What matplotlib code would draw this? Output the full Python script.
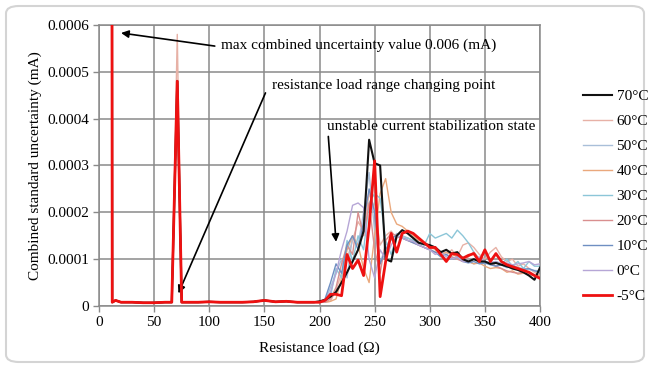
import numpy as np
import matplotlib
matplotlib.use("Agg")
import matplotlib.pyplot as plt
from matplotlib.patches import FancyBboxPatch
from matplotlib.ticker import FuncFormatter, MultipleLocator

plt.rcParams['font.family'] = ['Liberation Serif', 'DejaVu Serif']

# values are in units of 1e-4 mA
low_load = [10, 12, 15, 20, 30, 40, 50, 60, 66, 71, 75, 80, 90, 100, 110, 120,
            130, 140, 150, 160, 170, 180, 190, 195]
low_vals = [60, 0.08, 0.12, 0.08, 0.08, 0.07, 0.07, 0.08, 0.08, None, 0.08, 0.08,
            0.08, 0.09, 0.08, 0.08, 0.08, 0.09, 0.12, 0.09, 0.10, 0.08, 0.08, 0.08]

high_load = [200, 205, 210, 215, 220, 225, 230, 235, 240, 245, 250, 255, 260, 265,
             270, 275, 280, 285, 290, 295, 300, 305, 310, 315, 320, 325, 330, 335,
             340, 345, 350, 355, 360, 365, 370, 375, 380, 385, 390, 395, 400]

temps = ['70°C', '60°C', '50°C', '40°C', '30°C', '20°C', '10°C', '0°C', '-5°C']
colors = ['#111111', '#e7b1a6', '#a9bfd9', '#eaa87c', '#8cc6d8', '#d98f8f',
          '#6f8fc2', '#b6a6d6', '#ee1111']
widths = [1.5, 1.0, 1.0, 1.0, 1.0, 1.0, 1.0, 1.0, 2.0]
spikes = [4.8, 5.8, 4.8, 4.8, 4.8, 4.8, 4.8, 4.8, 4.8]

high_vals = {
    '70°C': [0.10, 0.13, 0.20, 0.30, 0.50, 0.72, 0.95, 1.20, 1.60, 3.55, 3.05, 3.00,
             1.00, 0.95, 1.50, 1.62, 1.55, 1.45, 1.35, 1.32, 1.30, 1.25, 1.15, 1.20,
             1.12, 1.15, 1.00, 0.95, 1.00, 0.95, 0.95, 0.90, 0.92, 0.88, 0.85, 0.80,
             0.77, 0.72, 0.65, 0.56, 0.82],
    '60°C': [0.08, 0.08, 0.10, 0.35, 0.70, 1.00, 1.40, 1.80, 1.60, 2.40, 2.10, 1.30,
             1.50, 1.60, 1.45, 1.50, 1.45, 1.40, 1.30, 1.25, 1.20, 1.25, 1.15, 1.10,
             1.20, 1.05, 1.30, 1.35, 1.25, 1.10, 1.00, 1.15, 1.25, 1.05, 0.95, 1.00,
             0.85, 0.90, 0.80, 0.72, 0.65],
    '50°C': [0.08, 0.10, 0.40, 0.70, 1.00, 0.60, 1.50, 1.30, 2.00, 2.85, 1.60, 0.90,
             1.30, 1.40, 1.55, 1.50, 1.45, 1.40, 1.35, 1.30, 1.30, 1.20, 1.15, 1.10,
             1.05, 1.00, 1.05, 0.95, 0.90, 0.95, 0.90, 0.95, 0.85, 0.90, 0.85, 0.88,
             0.82, 0.80, 0.78, 0.76, 0.75],
    '40°C': [0.08, 0.08, 0.10, 0.15, 0.60, 1.20, 1.50, 1.30, 0.80, 0.50, 1.50, 2.40,
             2.72, 2.00, 1.75, 1.70, 1.60, 1.50, 1.40, 1.35, 1.30, 1.20, 1.10, 1.15,
             1.10, 1.05, 1.00, 0.95, 0.90, 0.92, 0.85, 0.80, 0.82, 0.80, 0.72, 0.75,
             0.68, 0.70, 0.68, 0.65, 0.65],
    '30°C': [0.08, 0.08, 0.20, 0.80, 0.60, 1.40, 0.95, 1.50, 1.20, 2.20, 2.40, 2.30,
             1.40, 1.10, 1.50, 1.45, 1.45, 1.40, 1.35, 1.30, 1.55, 1.45, 1.50, 1.55,
             1.45, 1.62, 1.50, 1.35, 1.15, 1.00, 0.95, 0.92, 0.95, 0.90, 1.00, 0.85,
             0.95, 0.80, 0.95, 0.85, 0.85],
    '20°C': [0.08, 0.08, 0.15, 0.40, 0.90, 1.30, 1.10, 2.00, 1.50, 2.20, 1.20, 0.70,
             1.40, 1.55, 1.50, 1.45, 1.40, 1.35, 1.30, 1.25, 1.20, 1.15, 1.10, 1.00,
             1.05, 1.00, 0.95, 1.05, 1.15, 1.00, 0.95, 0.90, 0.85, 0.80, 0.75, 0.72,
             0.70, 0.72, 0.68, 0.65, 0.62],
    '10°C': [0.08, 0.15, 0.50, 0.90, 0.70, 1.30, 1.50, 1.20, 1.80, 2.50, 2.00, 0.90,
             1.20, 1.45, 1.50, 1.45, 1.40, 1.35, 1.30, 1.25, 1.20, 1.15, 1.05, 1.10,
             1.00, 1.05, 0.95, 0.92, 0.95, 0.90, 0.92, 0.88, 0.85, 0.88, 0.82, 0.85,
             0.80, 0.78, 0.80, 0.75, 0.72],
    '0°C': [0.08, 0.10, 0.30, 0.70, 1.20, 1.60, 2.15, 2.20, 2.10, 1.00, 0.60, 1.20,
            1.00, 1.30, 1.50, 1.45, 1.40, 1.38, 1.30, 1.25, 1.20, 1.10, 1.15, 1.05,
            1.00, 1.05, 0.95, 0.95, 1.00, 1.05, 0.95, 0.92, 0.95, 0.90, 0.92, 0.88,
            0.90, 0.92, 0.95, 0.88, 0.90],
    '-5°C': [0.08, 0.12, 0.25, 0.25, 0.22, 1.10, 0.80, 0.98, 0.65, 1.70, 3.10, 0.20,
             0.95, 1.55, 1.15, 1.55, 1.60, 1.55, 1.45, 1.35, 1.25, 1.25, 1.10, 0.95,
             1.12, 1.10, 1.02, 1.08, 1.12, 0.95, 1.20, 0.95, 1.12, 0.95, 0.88, 0.84,
             0.80, 0.76, 0.72, 0.65, 0.59],
}

fig = plt.figure(figsize=(6.49, 3.67), dpi=100)
fig.patches.append(FancyBboxPatch((6 / 649, 5 / 367), 638 / 649, 356 / 367,
                                  boxstyle="round,pad=0,rounding_size=0.02",
                                  transform=fig.transFigure, facecolor='white',
                                  edgecolor='#d4d4d4', lw=1.5, zorder=-1))
ax = fig.add_axes([99 / 649, 1 - 306 / 367, 441 / 649, 281 / 367])
ax.set_facecolor('none')

load = np.array(low_load + high_load)
lines = {}
order = [1, 2, 3, 4, 5, 6, 7, 0, 8]  # black and red drawn on top
for i in order:
    t = temps[i]
    lv = [spikes[i] if v is None else v for v in low_vals]
    vals = np.array(lv + high_vals[t]) * 1e-4
    ln, = ax.plot(load, vals, color=colors[i], lw=widths[i], label=t,
                  solid_joinstyle='round', zorder=3 + (i in (0, 8)) + (i == 8))
    lines[t] = ln

ax.set_xlim(0, 400)
ax.set_ylim(0, 0.0006)
ax.xaxis.set_major_locator(MultipleLocator(50))
ax.yaxis.set_major_locator(MultipleLocator(0.0001))
ax.yaxis.set_major_formatter(FuncFormatter(lambda v, p: '0' if abs(v) < 1e-12 else f'{v:.4f}'))
ax.grid(True, color='#8a8a8a', lw=1.1)
ax.set_axisbelow(True)
for s in ax.spines.values():
    s.set_color('#8a8a8a')
    s.set_linewidth(1.1)
ax.tick_params(direction='out', length=4, width=1, color='#8a8a8a',
               labelsize=11, pad=3)
ax.set_xlabel('Resistance load (Ω)', fontsize=11, labelpad=9)
ax.set_ylabel('Combined standard uncertainty (mA)', fontsize=11, labelpad=4)

arrow = dict(arrowstyle='-|>', color='black', lw=1.2, mutation_scale=11,
             shrinkA=0, shrinkB=0)
ax.annotate('', xy=(20, 5.83e-4), xytext=(105, 5.55e-4), arrowprops=arrow,
            annotation_clip=False)
ax.text(111, 5.57e-4, 'max combined uncertainty value 0.006 (mA)', fontsize=11,
        va='center', ha='left')
ax.annotate('', xy=(72, 0.27e-4), xytext=(151, 4.55e-4), arrowprops=arrow)
ax.text(157, 4.7e-4, 'resistance load range changing point', fontsize=11,
        va='center', ha='left')
ax.annotate('', xy=(215, 1.37e-4), xytext=(208, 3.62e-4), arrowprops=arrow)
ax.text(207, 3.84e-4, 'unstable current stabilization state', fontsize=11,
        va='center', ha='left')

handles = [lines[t] for t in temps]
fig.legend(handles, temps, loc='center left', bbox_to_anchor=(0.877, 0.465),
           frameon=False, fontsize=11, labelspacing=0.74, handlelength=1.9,
           handletextpad=0.3)

fig.savefig('out.png', dpi=100)
